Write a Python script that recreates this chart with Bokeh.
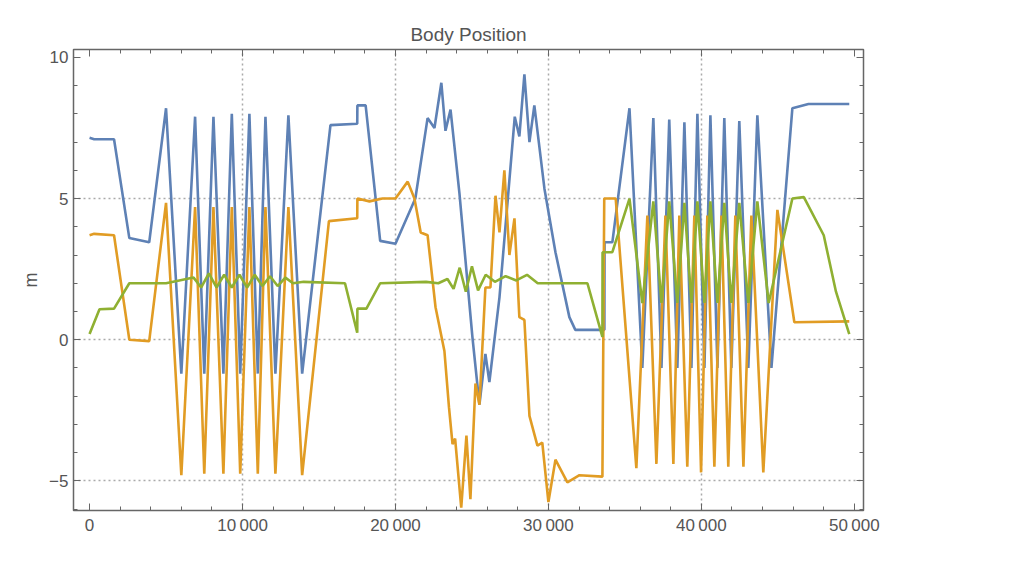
from bokeh.plotting import figure
from bokeh.models import FixedTicker, LinearAxis, Legend, LegendItem, Range1d, CustomJSTickFormatter
from bokeh.embed import file_html
from bokeh.resources import INLINE

# body position samples (time index, metres)
x_t = [0, 300, 1600, 2600, 3900, 5000, 6000, 6900, 7500, 8100, 8750, 9300, 9850, 10450, 11000,
       11500, 12150, 13000, 13900, 15750, 17500, 17510, 18050, 19000, 20000, 21300, 22100, 22550,
       23000, 23270, 23600, 24180, 25030, 25490, 25880, 26140, 26800, 27800, 28100, 28430, 28760,
       29080, 29740, 30460, 31370, 31760, 33660, 33670, 34180, 35300, 36140, 36860, 37390, 37900,
       38430, 38890, 39350, 39740, 40200, 40590, 41050, 41500, 41960, 42480, 43070, 43660, 44580,
       45950, 47000, 49670]
x_v = [7.15, 7.1, 7.1, 3.6, 3.45, 8.2, -1.2, 7.9, -1.2, 7.9, -1.2, 8.0, -1.2, 8.0, -1.2,
       7.9, -1.2, 7.95, -1.2, 7.6, 7.65, 8.3, 8.3, 3.5, 3.4, 5.0, 7.85, 7.5,
       9.1, 7.4, 8.15, 5.2, 0.1, -2.3, -0.5, -1.5, 1.5, 7.9, 7.2, 9.4, 7.0,
       8.3, 5.35, 3.1, 0.8, 0.35, 0.35, 3.45, 3.45, 8.2, -1.0, 7.85, -1.0, 7.8,
       -1.0, 7.7, -1.0, 8.0, -1.0, 7.95, -1.0, 7.85, -1.0, 7.75, -1.0, 7.95, -1.0,
       8.2, 8.35, 8.35]

y_t = [0, 300, 1600, 2600, 3900, 5000, 6000, 6900, 7500, 8100, 8750, 9300, 9850, 10450, 11000,
       11500, 12150, 13000, 13900, 15650, 17500, 17510, 18300, 19150, 20000, 20800, 21240, 21650,
       22100, 22620, 23200, 23500, 23730, 23900, 24300, 24640, 24900, 25230, 25490, 25880, 26210,
       26540, 26800, 27120, 27450, 27780, 28100, 28430, 28760, 29280, 29600, 30000, 30460, 31240,
       32030, 33530, 33650, 34400, 35750, 36470, 37060, 37650, 38170, 38560, 39080, 39540, 39980,
       40390, 40850, 41310, 41760, 42220, 42750, 43270, 44050, 44970, 46080, 49670]
y_v = [3.7, 3.75, 3.7, 0.0, -0.05, 4.85, -4.8, 4.7, -4.75, 4.7, -4.75, 4.7, -4.75, 4.7, -4.75,
       4.7, -4.75, 4.7, -4.8, 4.2, 4.3, 5.0, 4.9, 5.0, 5.0, 5.6, 5.0, 3.8,
       3.7, 1.15, -0.4, -2.4, -3.7, -3.5, -5.95, -3.4, -5.65, -1.55, -2.3, 1.85, 1.85,
       5.1, 3.8, 6.0, 3.0, 4.3, 0.8, 0.7, -2.7, -3.75, -3.65, -5.75, -4.25, -5.05,
       -4.8, -4.85, 5.0, 5.0, -4.55, 4.4, -4.4, 4.4, -4.4, 4.4, -4.5, 4.4, -4.7,
       4.4, -4.5, 4.4, -4.5, 4.4, -4.5, 4.4, -4.7, 4.6, 0.62, 0.65]

z_t = [0, 650, 1600, 2600, 5000, 6800, 7300, 7800, 8300, 8800, 9300, 9800, 10300, 10800, 11300,
       11800, 12300, 12800, 13300, 14000, 16700, 17500, 17510, 18100, 19000, 22000, 22800, 23400,
       23800, 24200, 24600, 25000, 25400, 25900, 26500, 27200, 27900, 28600, 29300, 30000, 32550,
       33530, 33540, 34180, 35300, 36140, 36860, 37390, 37900, 38430, 38890, 39350, 39740, 40200,
       40590, 41050, 41500, 41960, 42480, 43070, 43660, 44400, 45950, 46700, 48000, 48800, 49670]
z_v = [0.2, 1.08, 1.1, 2.0, 2.0, 2.2, 1.85, 2.35, 1.85, 2.3, 1.85, 2.3, 1.85, 2.3, 1.9,
       2.25, 1.9, 2.2, 2.0, 2.05, 2.0, 0.25, 1.1, 1.1, 2.0, 2.05, 2.0, 2.15,
       1.8, 2.55, 1.7, 2.6, 1.75, 2.3, 2.05, 2.25, 2.1, 2.3, 2.0, 2.0, 2.0,
       0.1, 3.1, 3.1, 5.0, 1.3, 4.9, 1.3, 4.9, 1.3, 4.85, 1.3, 4.9, 1.3,
       4.9, 1.3, 4.85, 1.3, 4.85, 1.3, 4.9, 1.3, 5.0, 5.05, 3.7, 1.7, 0.2]

x_ticks = [0, 10000, 20000, 30000, 40000, 50000]
x_tick_labels = ["0", "10\u2009000", "20\u2009000", "30\u2009000", "40\u2009000", "50\u2009000"]
y_ticks = [-5, 0, 5, 10]

grey = "#555555"
font = "Liberation Sans"

p = figure(frame_width=790, frame_height=461, output_backend="svg", toolbar_location=None, tools="",
           x_range=Range1d(-1050, 50600), y_range=Range1d(-6.05, 10.28),
           title="Body Position", min_border_left=73, min_border_right=10,
           min_border_top=49, min_border_bottom=40)
p.title.align = "center"
p.title.text_font = font
p.title.text_font_size = "19px"
p.title.text_font_style = "normal"
p.title.text_color = grey
p.outline_line_color = "#666666"
p.outline_line_width = 1.5

r_x = p.line(x_t, x_v, color="#5E81B5", line_width=2.6)
r_y = p.line(y_t, y_v, color="#E19C24", line_width=2.6)
r_z = p.line(z_t, z_v, color="#8FB032", line_width=2.6)

for g in (p.xgrid[0], p.ygrid[0]):
    g.grid_line_color = "#aaaaaa"
    g.grid_line_dash = "2 3"
    g.grid_line_width = 1.5
p.xgrid[0].ticker = FixedTicker(ticks=x_ticks[1:-1])
p.ygrid[0].ticker = FixedTicker(ticks=y_ticks[:-1])


def style(ax):
    ax.axis_line_color = "#666666"
    ax.major_tick_line_color = "#666666"
    ax.minor_tick_line_color = "#666666"
    ax.major_tick_in = 7
    ax.major_tick_out = 0
    ax.minor_tick_in = 4
    ax.minor_tick_out = 0
    ax.major_label_text_font = font
    ax.major_label_text_font_size = "17px"
    ax.major_label_text_color = grey


p.xaxis[0].ticker = FixedTicker(ticks=x_ticks, minor_ticks=list(range(0, 50001, 2000)))
p.xaxis[0].major_label_overrides = dict(zip(x_ticks, x_tick_labels))
p.yaxis[0].ticker = FixedTicker(ticks=y_ticks, minor_ticks=list(range(-6, 11)))
p.yaxis[0].axis_label = "m"
p.yaxis[0].axis_label_text_font = font
p.yaxis[0].axis_label_text_font_size = "18px"
p.yaxis[0].axis_label_text_font_style = "normal"
p.yaxis[0].axis_label_text_color = grey
style(p.xaxis[0])
style(p.yaxis[0])

blank = CustomJSTickFormatter(code="return ''")
top = LinearAxis(ticker=FixedTicker(ticks=x_ticks, minor_ticks=list(range(0, 50001, 2000))),
                 formatter=blank, major_label_standoff=0)
right = LinearAxis(ticker=FixedTicker(ticks=y_ticks, minor_ticks=list(range(-6, 11))),
                   formatter=blank, major_label_standoff=0)
style(top)
style(right)
p.add_layout(top, "above")
p.add_layout(right, "right")

legend = Legend(items=[LegendItem(label="x", renderers=[r_x]),
                       LegendItem(label="y", renderers=[r_y]),
                       LegendItem(label="z", renderers=[r_z])],
                location="center", border_line_color=None, background_fill_alpha=0,
                label_text_font=font, label_text_font_size="22px", label_text_color="#222222",
                glyph_width=46, glyph_height=24, spacing=32, label_standoff=12,
                margin=0, padding=0)
p.add_layout(legend, "right")

open("out.html", "w").write(file_html(p, INLINE))
